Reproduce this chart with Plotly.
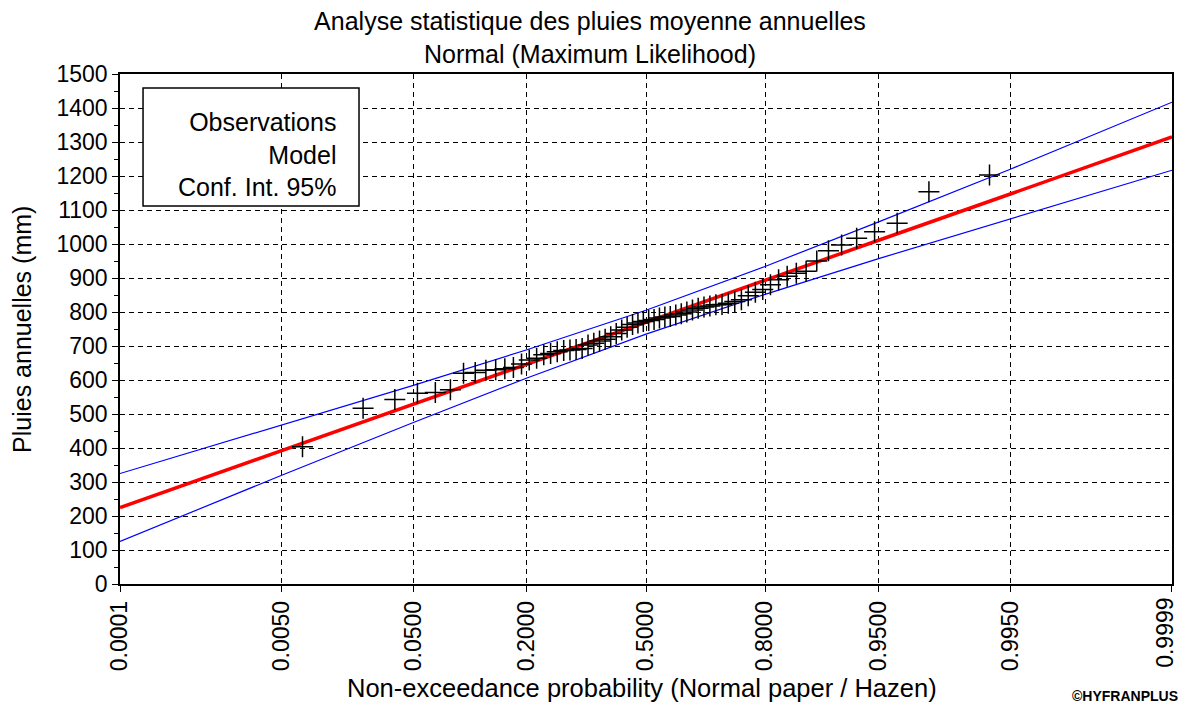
"""Normal probability paper plot (HYFRAN style)."""

from statistics import NormalDist

import plotly.graph_objects as go

# observed annual rainfall, sorted ascending (mm) - plotted at Hazen positions
obs_values = [
    404, 517, 543, 561, 563, 571, 620, 622, 629, 630,
    633, 637, 647, 659, 664, 674, 678, 683, 687, 688,
    690, 693, 703, 708, 715, 720, 727, 737, 747, 755,
    763, 768, 772, 775, 778, 782, 785, 787, 791, 795,
    800, 806, 811, 815, 818, 821, 822, 826, 831, 836,
    848, 858, 866, 880, 895, 905, 914, 920, 950, 980,
    997, 1017, 1036, 1061, 1154, 1203,
]

# probability ticks of the normal paper
tick_probs = [0.0001, 0.0050, 0.0500, 0.2000, 0.5000, 0.8000, 0.9500, 0.9950, 0.9999]
tick_labels = ["0.0001", "0.0050", "0.0500", "0.2000", "0.5000",
               "0.8000", "0.9500", "0.9950", "0.9999"]

# fitted model and 95% confidence band, read at the tick probabilities
model_values = [225, 393, 529, 647, 770, 893, 1011, 1147, 1315]
upper_values = [325, 467, 584, 689, 805, 934, 1065, 1220, 1417]
lower_values = [125, 320, 475, 606, 735, 852, 957, 1073, 1217]

FONT = "Liberation Sans, Arial, sans-serif"

# the page body has an 8px margin, so the figure is drawn a bit smaller
W, H = 1171, 695

nd = NormalDist()
n = len(obs_values)
obs_z = [nd.inv_cdf((i - 0.5) / n) for i in range(1, n + 1)]
tick_z = [nd.inv_cdf(p) for p in tick_probs]

fig = go.Figure()

fig.add_trace(go.Scatter(
    x=tick_z, y=upper_values, mode="lines",
    line=dict(color="#0000ff", width=1.2), name="Conf. Int. 95%",
))
fig.add_trace(go.Scatter(
    x=tick_z, y=lower_values, mode="lines",
    line=dict(color="#0000ff", width=1.2), showlegend=False,
))
fig.add_trace(go.Scatter(
    x=tick_z, y=model_values, mode="lines",
    line=dict(color="#ff0000", width=3.5), name="Model",
))
fig.add_trace(go.Scatter(
    x=obs_z, y=obs_values, mode="markers", name="Observations",
    marker=dict(symbol="cross-thin", size=15, color="black",
                line=dict(color="black", width=1.5)),
))

axis_common = dict(
    showline=True, linecolor="black", linewidth=1.5, mirror=True,
    showgrid=True, gridcolor="black", gridwidth=1, griddash="5px,4px",
    zeroline=False, ticks="outside", tickcolor="black", ticklen=6,
    tickfont=dict(family=FONT, size=23, color="black"),
    automargin=False,
)

# last label would be cut by the page edge: drawn as an annotation nudged left
fig.update_xaxes(
    **axis_common,
    range=[tick_z[0] - 1e-4, tick_z[-1] + 1e-4],
    tickvals=tick_z, ticktext=tick_labels[:-1] + [""], tickangle=-90,
)
fig.update_yaxes(
    **axis_common,
    range=[0, 1500], dtick=100,
    minor=dict(dtick=50, ticks="outside", ticklen=4, tickcolor="black", showgrid=False),
)

fig.update_layout(
    width=W, height=H,
    paper_bgcolor="white", plot_bgcolor="white",
    margin=dict(l=112, r=7, t=66, b=119),
    showlegend=False,
    title=dict(
        text="Analyse statistique des pluies moyenne annuelles<br>Normal (Maximum Likelihood)",
        x=0.497, xanchor="center", y=1 - 22 / H, yanchor="middle",
        font=dict(family=FONT, size=25, color="black"),
    ),
    shapes=[dict(
        type="rect", xref="paper", yref="paper",
        x0=0.0219, x1=0.2272, y0=0.741, y1=0.9725,
        line=dict(color="black", width=1.5), fillcolor="white", layer="above",
    )],
    annotations=[
        dict(
            text="Observations<br>Model<br>Conf. Int. 95%",
            xref="paper", yref="paper", x=0.2072, y=0.843,
            xanchor="right", yanchor="middle", align="right", showarrow=False,
            font=dict(family=FONT, size=25, color="black"),
        ),
        dict(
            text=tick_labels[-1], textangle=-90,
            xref="paper", yref="paper", x=1.0065, y=-0.0255,
            xanchor="right", yanchor="top", showarrow=False,
            borderpad=0,
            font=dict(family=FONT, size=23, color="black"),
        ),
        dict(
            text="Non-exceedance probability (Normal paper / Hazen)",
            xref="paper", yref="paper", x=0.4962, y=-0.204,
            xanchor="center", yanchor="middle", showarrow=False,
            font=dict(family=FONT, size=25.5, color="black"),
        ),
        dict(
            text="Pluies annuelles (mm)", textangle=-90,
            xref="paper", yref="paper", x=-0.0932, y=0.5,
            xanchor="center", yanchor="middle", showarrow=False,
            font=dict(family=FONT, size=25, color="black"),
        ),
        dict(
            text="<b>©HYFRANPLUS</b>",
            xref="paper", yref="paper", x=1.008, y=-0.2196,
            xanchor="right", yanchor="middle", showarrow=False,
            font=dict(family=FONT, size=14, color="black"),
        ),
    ],
)

fig.write_html("out.html")
